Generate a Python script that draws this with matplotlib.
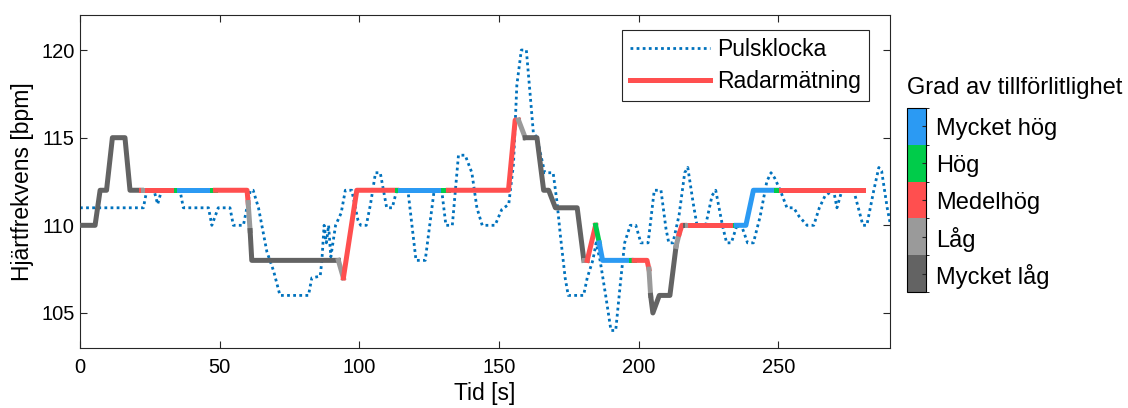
import numpy as np
import matplotlib
matplotlib.use("Agg")
import matplotlib.pyplot as plt
from matplotlib.colors import ListedColormap, BoundaryNorm
from matplotlib.cm import ScalarMappable
from matplotlib.lines import Line2D

plt.rcParams['font.family'] = ['Liberation Sans', 'DejaVu Sans']
plt.rcParams['font.size'] = 15

# pulse watch (dotted)
pulse_t = [0, 22.7, 23.9, 26.5, 27.8, 29.2, 35.8, 37.0, 46.0, 47.2, 49.5, 53.7, 54.9, 58.5,
           61.0, 62.0, 63.9, 66.9, 69.3, 71.6, 81.8, 83.0, 86.0, 86.6, 87.4, 88.2, 89.0, 89.8,
           91.5, 93.5, 95.0, 97.3, 99.5, 100.5, 102.5, 104.0, 105.8, 107.5, 109.8, 111.8, 113.4,
           117.4, 120.3, 123.6, 126.8, 129.5, 131.0, 133.3, 135.5, 137.9, 140.3, 142.1, 144.0,
           148.6, 151.0, 153.5, 155.2, 156.4, 158.0, 159.8, 161.2, 162.3, 163.6, 166.4, 169.4,
           170.8, 172.0, 173.7, 174.8, 180.3, 181.6, 183.6, 184.8, 186.2, 188.2, 190.1, 191.8,
           193.6, 195.0, 197.0, 199.0, 200.8, 203.4, 205.6, 208.0, 209.8, 210.8, 212.3, 214.5,
           216.5, 217.6, 219.5, 220.9, 224.0, 226.3, 227.6, 230.0, 231.5, 233.2, 235.2, 236.8,
           239.0, 241.1, 243.5, 245.9, 247.4, 248.7, 250.7, 253.1, 255.5, 257.5, 260.3, 262.7,
           264.7, 266.8, 269.8, 271.0, 272.8, 277.0, 280.3, 281.7, 284.2, 286.0, 287.0, 289.0, 290.2]
pulse_hr = [111, 111, 112, 112, 111.2, 112, 112, 111, 111, 110, 111, 111, 110, 110,
            112, 112, 111, 108.5, 107.4, 106, 106, 107, 107.1, 108, 110, 109, 110, 108.2,
            110, 110.7, 112, 112, 110.3, 110, 110, 111.2, 113, 113, 111, 111, 112,
            112, 108, 108, 112, 112, 110, 110, 114, 114, 113, 111, 110,
            110, 110.9, 111.2, 113.5, 118, 120, 120, 117.4, 115.3, 115, 113, 113,
            111.3, 109.4, 107, 106, 106, 107, 108, 109, 108, 106, 104, 104,
            106.9, 109, 110, 110, 109, 109, 112, 112, 109.8, 109, 109, 110.6,
            113, 113.3, 111.3, 110, 110, 111.7, 112, 110, 109, 109, 110, 110,
            109, 109, 110.5, 112.5, 113, 112.7, 112, 111, 111, 110.5, 110, 110,
            111, 111.7, 112, 111, 112, 112, 110, 110, 112, 113.3, 113.1, 111, 110]

# radar measurement; level = reliability of the segment starting at that point
radar_t = [0, 5.4, 7.2, 9.5, 11.6, 16.1, 17.9, 22.0, 22.4, 24.0, 34.5, 35.4, 47.3, 48.5,
           59.8, 60.2, 60.9, 61.5, 92.5, 94.3, 99.1, 113.4, 114.4, 130.1, 131.9, 153.4,
           155.8, 157.0, 159.4, 163.6, 166.0, 167.8, 170.2, 178.0, 180.4, 181.6, 184.6,
           185.9, 187.1, 197.3, 198.4, 203.0, 203.7, 204.3, 205.1, 207.4, 211.2, 213.4,
           214.5, 215.5, 216.5, 217.3, 218.5, 234.6, 235.0, 238.4, 241.1, 249.1, 250.9, 280.3]
radar_hr = [110, 110, 112, 112, 115, 115, 112, 112, 112, 112, 112, 112, 112, 112,
            112, 111.3, 109.7, 108, 108, 107, 112, 112, 112, 112, 112, 112,
            116, 116, 115, 115, 112, 112, 111, 111, 108, 108, 110,
            109, 108, 108, 108, 108, 107.5, 106, 105, 106, 106, 108.8,
            109.5, 110, 110, 110, 110, 110, 110, 110, 112, 112, 112, 112]
radar_level = [0, 0, 0, 0, 0, 0, 0, 2, 1, 2, 3, 4, 3, 2,
               2, 1, 0, 0, 1, 2, 2, 3, 4, 3, 2, 2,
               2, 1, 0, 0, 0, 0, 0, 0, 1, 2, 3,
               4, 4, 3, 2, 2, 1, 0, 0, 0, 0, 1,
               2, 2, 0, 1, 2, 3, 4, 4, 4, 3, 2, 2]

level_names = ['Mycket låg', 'Låg', 'Medelhög', 'Hög', 'Mycket hög']
level_colors = ['#636363', '#9a9a9a', '#ff4f4f', '#00cc4a', '#2b9af3']

W, H = 1128, 408
fig = plt.figure(figsize=(W / 100, H / 100), dpi=100)
ax = fig.add_axes([80 / W, (H - 348) / H, 810 / W, 333 / H])

ax.plot(pulse_t, pulse_hr, linestyle=(0, (1, 1.2)), color='#0072BD', lw=2, zorder=2)

# draw radar as runs of equal reliability
start = 0
n = len(radar_t)
for i in range(1, n):
    if i == n - 1 or radar_level[i] != radar_level[start]:
        ax.plot(radar_t[start:i + 1], radar_hr[start:i + 1], color=level_colors[radar_level[start]],
                lw=3.6, solid_capstyle='projecting', solid_joinstyle='round', zorder=3)
        start = i

ax.set_xlim(0, 290)
ax.set_ylim(103, 122)
ax.set_xticks([0, 50, 100, 150, 200, 250])
ax.set_yticks([105, 110, 115, 120])
ax.tick_params(direction='in', top=True, right=True, length=5, width=0.8, colors='#262626',
               labelcolor='black', labelsize=14.5)
ax.tick_params(axis='x', pad=7)
ax.tick_params(axis='y', pad=4)
for s in ax.spines.values():
    s.set_color('#262626')
    s.set_linewidth(0.8)
ax.set_xlabel('Tid [s]', fontsize=16.5, labelpad=4)
ax.set_ylabel('Hjärtfrekvens [bpm]', fontsize=16.5)
ax.yaxis.set_label_coords((34 - 80) / 810, 0.5)

handles = [Line2D([], [], linestyle=(0, (1, 1.2)), color='#0072BD', lw=2),
           Line2D([], [], color='#ff4f4f', lw=3.6)]
leg = ax.legend(handles, ['Pulsklocka', 'Radarmätning'], loc='upper right',
                bbox_to_anchor=((869 - 80) / 810, 1 - 15 / 333), handlelength=3.5,
                handletextpad=0.3, fancybox=False, framealpha=1, edgecolor='#262626',
                fontsize=16.5, borderpad=0.35, labelspacing=0.4, borderaxespad=0)
leg.get_frame().set_linewidth(0.8)

# reliability colour bar
cax = fig.add_axes([907 / W, (H - 292) / H, 19 / W, 184 / H])
cmap = ListedColormap(level_colors)
norm = BoundaryNorm(np.arange(6), 5)
cb = fig.colorbar(ScalarMappable(norm=norm, cmap=cmap), cax=cax, ticks=np.arange(5) + 0.5)
cb.set_ticklabels(level_names)
cax.tick_params(direction='in', length=3, labelsize=17, pad=7, colors='#262626', labelcolor='black')
cb.outline.set_linewidth(0.8)
fig.text(907 / W, 1 - 88 / H, 'Grad av tillförlitlighet', ha='left', va='center', fontsize=17)

fig.savefig('out.png', dpi=100)
